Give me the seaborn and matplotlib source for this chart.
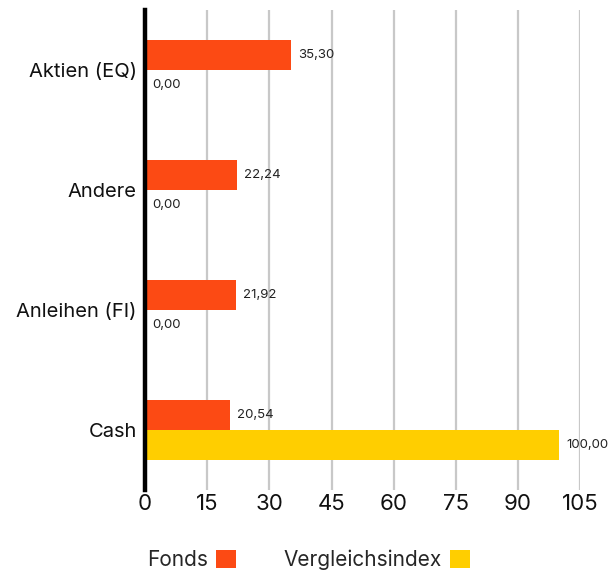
import matplotlib
matplotlib.use("Agg")
import matplotlib.pyplot as plt
import seaborn as sns
import pandas as pd
from matplotlib.patches import Patch

categories = ["Aktien (EQ)", "Andere", "Anleihen (FI)", "Cash"]
series_names = ["Fonds", "Vergleichsindex"]
fonds = [35.30, 22.24, 21.92, 20.54]
index_vals = [0.00, 0.00, 0.00, 100.00]
x_ticks = [0, 15, 30, 45, 60, 75, 90, 105]
colors = ["#FC4A14", "#FFCE00"]

df = pd.DataFrame({
    "cat": categories * 2,
    "val": fonds + index_vals,
    "series": [series_names[0]] * 4 + [series_names[1]] * 4,
})

sns.set_style("white")
plt.rcParams["font.family"] = ["Inter", "DejaVu Sans"]

fig = plt.figure(figsize=(6.12, 5.74), dpi=100)
ax = fig.add_axes([0.237, 0.1463, 0.711, 0.8363])

sns.barplot(data=df, y="cat", x="val", hue="series", orient="h", width=0.5,
            palette=colors, hue_order=series_names, order=categories,
            ax=ax, legend=False, saturation=1, linewidth=0, edgecolor="none")

for cont in ax.containers:
    labels = [f"{b.get_width():.2f}".replace(".", ",") for b in cont]
    ax.bar_label(cont, labels=labels, padding=5, fontsize=9.5, color="#222222")

ax.set_xlim(0, 105)
ax.set_ylim(3.5, -0.5)
ax.set_xticks(x_ticks)
ax.set_xticklabels([str(t) for t in x_ticks], fontsize=16, color="#111111")
ax.tick_params(axis="y", labelsize=14.5, colors="#111111", length=0, pad=6)
ax.tick_params(axis="x", length=0, pad=3)
ax.set_xlabel("")
ax.set_ylabel("")
ax.grid(axis="x", color="#c8c8c8", linewidth=1.6)
ax.grid(axis="y", visible=False)
ax.set_axisbelow(True)
for s in ["top", "right", "bottom"]:
    ax.spines[s].set_visible(False)
ax.spines["left"].set_color("black")
ax.spines["left"].set_linewidth(3.2)
ax.spines["left"].set_zorder(5)

handles = [Patch(facecolor=c, edgecolor="none") for c in colors]
fig.legend(handles, series_names, loc="lower left", bbox_to_anchor=(0.209, -0.026),
           ncol=2, frameon=False, markerfirst=False, fontsize=15,
           handlelength=0.95, handleheight=0.95, handletextpad=0.4, columnspacing=2.3)

fig.savefig("out.png", dpi=100)
